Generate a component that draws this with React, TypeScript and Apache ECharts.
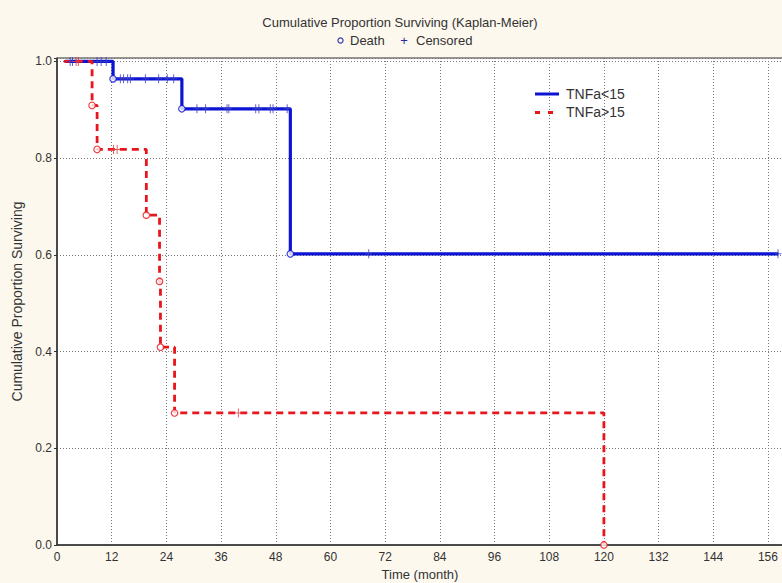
import React, { useEffect, useRef } from 'react';
import * as echarts from 'echarts';

// ---- data (months / cumulative proportion surviving) ----
const lowName = 'TNFa<15';
const lowStart = 1.8;
const lowEnd = 158.3;
const lowDeathTimes = [12.3, 27.4, 51.2];
const lowDeathSurv = [0.964, 0.902, 0.602];
const lowCensorTimes = [
  2.9, 3.4, 8.8, 9.7, 10.8, 13.9, 14.6, 15.5, 16.1, 19.4, 22.3, 24.2, 25.6,
  30.7, 32.6, 37.3, 37.7, 43.6, 44.3, 46.8, 47.4, 50.5, 68.4, 158.2,
];

const highName = 'TNFa>15';
const highStart = 1.5;
const highDeathTimes = [7.7, 8.8, 19.6, 22.5, 22.7, 25.8, 120];
const highDeathSurv = [0.909, 0.818, 0.682, 0.545, 0.409, 0.273, 0];
const highCensorTimes = [4.2, 4.7, 12.4, 13.2, 39.8];

const xTickStep = 12;
const yTickStep = 0.2;
const xMax = 159.3;
const yMax = 1.007;

const titleText = 'Cumulative Proportion Surviving (Kaplan-Meier)';
const yName = 'Cumulative Proportion Surviving';
const xName = 'Time (month)';

// ---- helpers ----
function survAt(times: number[], surv: number[], t: number): number {
  let s = 1;
  for (let i = 0; i < times.length; i++) if (times[i] <= t) s = surv[i];
  return s;
}

const lowLine = [
  [lowStart, 1],
  ...lowDeathTimes.map((t, i) => [t, lowDeathSurv[i]]),
  [lowEnd, lowDeathSurv[lowDeathSurv.length - 1]],
];
const highLine = [[highStart, 1], ...highDeathTimes.map((t, i) => [t, highDeathSurv[i]])];

const lowCensor = lowCensorTimes.map((t) => [t, survAt(lowDeathTimes, lowDeathSurv, t)]);
const highCensor = highCensorTimes.map((t) => [t, survAt(highDeathTimes, highDeathSurv, t)]);
const lowDeath = lowDeathTimes.map((t, i) => [t, lowDeathSurv[i]]);
const highDeath = highDeathTimes.map((t, i) => [t, highDeathSurv[i]]);

const BLUE = '#0a14d2';
const RED = '#e8161c';
const PLUS = 'path://M3,0h1v9h-1z M0,4h7v1h-7z';
const FONT = '"Liberation Sans", Arial, sans-serif';

export default function App() {
  const ref = useRef<HTMLDivElement>(null);
  useEffect(() => {
    if (!ref.current) return;
    const chart = echarts.init(ref.current, undefined, { renderer: 'svg' });
    chart.setOption({
      animation: false,
      backgroundColor: '#fcf8ee',
      textStyle: { fontFamily: FONT },
      grid: {
        left: 57,
        top: 58,
        right: -1,
        bottom: 38,
        containLabel: false,
        outerBoundsMode: 'none',
        show: true,
        backgroundColor: '#ffffff',
        borderColor: '#333',
        borderWidth: 1,
      },
      graphic: [
        {
          type: 'text',
          x: 400,
          y: 22,
          style: { text: titleText, fill: '#333', font: `13px ${FONT}`, textAlign: 'center', textVerticalAlign: 'middle' },
        },
        { type: 'circle', shape: { cx: 340.5, cy: 40.5, r: 2.6 }, style: { fill: 'none', stroke: '#2a2aa8', lineWidth: 1.1 } },
        {
          type: 'text',
          x: 350,
          y: 40.5,
          style: { text: 'Death', fill: '#333', font: `13px ${FONT}`, textAlign: 'left', textVerticalAlign: 'middle' },
        },
        {
          type: 'text',
          x: 404,
          y: 40,
          style: { text: '+', fill: '#2a2aa8', font: `13px ${FONT}`, textAlign: 'center', textVerticalAlign: 'middle' },
        },
        {
          type: 'text',
          x: 416,
          y: 40.5,
          style: { text: 'Censored', fill: '#333', font: `13px ${FONT}`, textAlign: 'left', textVerticalAlign: 'middle' },
        },
        // series legend
        {
          type: 'line',
          z: 10,
          shape: { x1: 535, y1: 94, x2: 559, y2: 94 },
          style: { stroke: BLUE, lineWidth: 3 },
        },
        {
          type: 'text',
          z: 10,
          x: 566,
          y: 94,
          style: { text: lowName, fill: '#333', font: `14px ${FONT}`, textAlign: 'left', textVerticalAlign: 'middle' },
        },
        {
          type: 'line',
          z: 10,
          shape: { x1: 535, y1: 112.5, x2: 553, y2: 112.5 },
          style: { stroke: RED, lineWidth: 3, lineDash: [5, 8] },
        },
        {
          type: 'text',
          z: 10,
          x: 566,
          y: 112,
          style: { text: highName, fill: '#333', font: `14px ${FONT}`, textAlign: 'left', textVerticalAlign: 'middle' },
        },
      ],
      xAxis: {
        type: 'value',
        min: 0,
        max: xMax,
        interval: xTickStep,
        name: xName,
        nameLocation: 'middle',
        nameGap: 23,
        nameTextStyle: { fontSize: 13, color: '#333' },
        axisLine: { onZero: false, lineStyle: { color: '#333', width: 1.5 } },
        axisTick: { show: false },
        axisLabel: {
          fontSize: 12,
          color: '#333',
          margin: 6,
          formatter: (v: number) => (Math.abs(v / xTickStep - Math.round(v / xTickStep)) < 1e-6 ? String(Math.round(v)) : ''),
        },
        splitLine: { show: true, lineStyle: { color: '#777', type: [1, 2], width: 1 } },
      },
      yAxis: {
        type: 'value',
        min: 0,
        max: yMax,
        interval: yTickStep,
        name: yName,
        nameLocation: 'middle',
        nameGap: 32,
        nameTextStyle: { fontSize: 14, color: '#333' },
        axisLine: { onZero: false, lineStyle: { color: '#333', width: 1.5 } },
        axisTick: { show: true, length: 3, lineStyle: { color: '#333' } },
        axisLabel: {
          fontSize: 12,
          color: '#333',
          margin: 5,
          formatter: (v: number) => (Math.abs(v / yTickStep - Math.round(v / yTickStep)) < 1e-6 ? v.toFixed(1) : ''),
        },
        splitLine: { show: true, lineStyle: { color: '#777', type: [1, 2], width: 1 } },
      },
      series: [
        {
          name: lowName,
          type: 'line',
          step: 'end',
          data: lowLine,
          symbol: 'none',
          lineStyle: { color: BLUE, width: 3.2 },
          itemStyle: { color: BLUE },
          z: 2,
        },
        {
          name: highName,
          type: 'line',
          step: 'end',
          data: highLine,
          symbol: 'none',
          lineStyle: { color: RED, width: 2.8, type: [7, 5] },
          itemStyle: { color: RED },
          z: 3,
        },
        {
          name: 'lowCensor',
          type: 'scatter',
          data: lowCensor,
          symbol: PLUS,
          symbolSize: [7, 9],
          itemStyle: { color: '#3c3cc4' },
          clip: false,
          z: 4,
        },
        {
          name: 'highCensor',
          type: 'scatter',
          data: highCensor,
          symbol: PLUS,
          symbolSize: [7, 9],
          itemStyle: { color: '#e03a40' },
          clip: false,
          z: 4,
        },
        {
          name: 'lowDeath',
          type: 'scatter',
          data: lowDeath,
          symbol: 'circle',
          symbolSize: 6.5,
          itemStyle: { color: '#ffffff', borderColor: BLUE, borderWidth: 1.2 },
          clip: false,
          z: 5,
        },
        {
          name: 'highDeath',
          type: 'scatter',
          data: highDeath,
          symbol: 'circle',
          symbolSize: 6.5,
          itemStyle: { color: '#ffffff', borderColor: RED, borderWidth: 1.2 },
          clip: false,
          z: 5,
        },
      ],
    });
    return () => chart.dispose();
  }, []);
  return <div ref={ref} style={{ position: 'fixed', left: 0, top: 0, width: 782, height: 583 }} />;
}
